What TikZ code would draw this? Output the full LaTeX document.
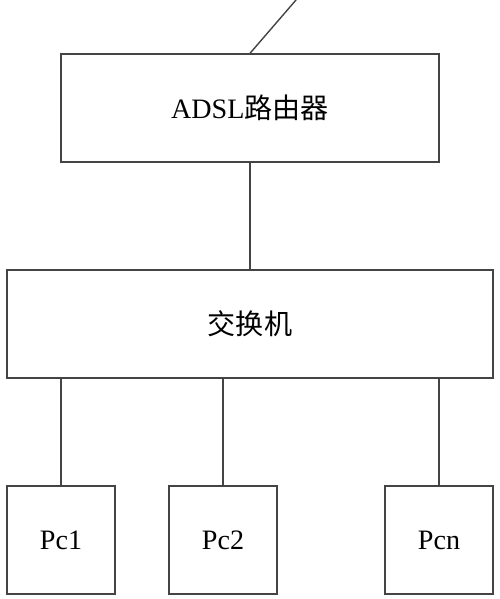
\documentclass[tikz,border=0pt]{standalone}
\usepackage{fontspec}
\setmainfont{Liberation Serif}
\newfontfamily\cjk{Noto Sans CJK SC}
\definecolor{linegray}{HTML}{444444}
\begin{document}
\begin{tikzpicture}[x=0.02cm, y=-0.02cm,
		box/.style={rectangle, draw=linegray, line width=0.8pt, inner sep=0pt, font=\fontsize{16}{18}\selectfont},
		pcbox/.style={box, minimum width=2.16cm, minimum height=2.16cm},
		link/.style={draw=linegray, line width=0.8pt}]
		\useasboundingbox (0,0) rectangle (500,599);

		\node[box, minimum width=7.56cm, minimum height=2.16cm] (router) at (250,108) {ADSL{\cjk 路由器}};
		\node[box, minimum width=9.72cm, minimum height=2.16cm] (switch) at (250,324) {\cjk 交换机};

		\node[pcbox] (pcOne) at (61,540) {Pc1};
		\node[pcbox] (pcTwo) at (223,540) {Pc2};
		\node[pcbox] (pcN) at (439,540) {Pcn};

		\coordinate (wan) at (296,0);

		\draw[link] (router.north) -- (wan);
		\draw[link] (router.south) -- (switch.north);

		\draw[link] (pcOne.north) -- (pcOne.north |- switch.south);
		\draw[link] (pcTwo.north) -- (pcTwo.north |- switch.south);
		\draw[link] (pcN.north) -- (pcN.north |- switch.south);
	\end{tikzpicture}
\end{document}
